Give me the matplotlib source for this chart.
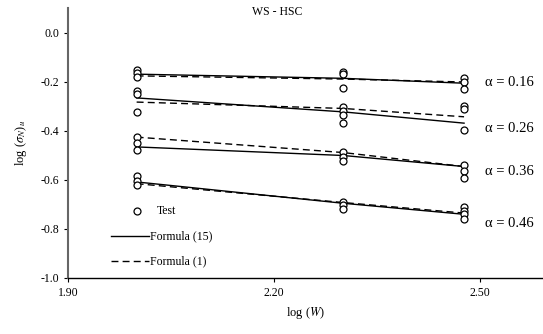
import numpy as np
import matplotlib
matplotlib.use("Agg")
import matplotlib.pyplot as plt

plt.rcParams['font.family'] = ['Liberation Serif', 'DejaVu Serif']
plt.rcParams['mathtext.fontset'] = 'stix'

# log(W) for W = 100, 200, 300
logW = [2.0, 2.301, 2.477]
alphas = ['0.16', '0.26', '0.36', '0.46']

# test points, per alpha, per W
test_pts = {
    '0.16': [[-0.151, -0.165, -0.178], [-0.158, -0.167, -0.226], [-0.182, -0.199, -0.230]],
    '0.26': [[-0.237, -0.250, -0.321], [-0.301, -0.318, -0.335, -0.369], [-0.300, -0.310, -0.395]],
    '0.36': [[-0.423, -0.450, -0.478], [-0.484, -0.505, -0.522], [-0.540, -0.565, -0.590]],
    '0.46': [[-0.585, -0.605, -0.620], [-0.688, -0.702, -0.718], [-0.710, -0.725, -0.740, -0.760]],
}
# formula (15), solid
f15 = {
    '0.16': [-0.168, -0.185, -0.205],
    '0.26': [-0.265, -0.322, -0.368],
    '0.36': [-0.465, -0.500, -0.545],
    '0.46': [-0.608, -0.695, -0.740],
}
# formula (1), dashed
f1 = {
    '0.16': [-0.175, -0.188, -0.200],
    '0.26': [-0.282, -0.308, -0.342],
    '0.36': [-0.425, -0.488, -0.545],
    '0.46': [-0.615, -0.692, -0.735],
}
label_y = [-0.204, -0.388, -0.567, -0.776]

fig = plt.figure(figsize=(5.43, 3.34), dpi=100)
ax = fig.add_axes([68/543, 56/334, 475/543, 270/334])

for a in alphas:
    for x, ys in zip(logW, test_pts[a]):
        ax.plot([x]*len(ys), ys, 'o', mfc='white', mec='black', ms=5, mew=0.9, zorder=3)
    ax.plot(logW, f15[a], '-', color='black', lw=1.0)
    ax.plot(logW, f1[a], '--', color='black', lw=1.0, dashes=(5, 3))

for a, yl in zip(alphas, label_y):
    ax.text(2.507, yl, 'α = ' + a, fontsize=10.5, va='center', ha='left')

# legend drawn by hand
ax.plot([2.0], [-0.725], 'o', mfc='white', mec='black', ms=5, mew=0.9)
ax.text(2.03, -0.725, 'Test', fontsize=8.5, va='center')
ax.plot([1.962, 2.018], [-0.83, -0.83], '-', color='black', lw=1.0)
ax.text(2.02, -0.83, 'Formula (15)', fontsize=8.5, va='center')
ax.plot([1.962, 2.018], [-0.93, -0.93], '--', color='black', lw=1.0, dashes=(5, 3))
ax.text(2.02, -0.93, 'Formula (1)', fontsize=8.5, va='center')

ax.set_xlim(1.9, 2.592)
ax.set_ylim(-1.0, 0.102)
ax.set_xticks([1.9, 2.2, 2.5])
ax.set_xticklabels(['1.90', '2.20', '2.50'])
ax.set_yticks(np.arange(-1.0, 0.01, 0.2))
ax.set_yticklabels(['-1.0', '-0.8', '-0.6', '-0.4', '-0.2', '0.0'])
ax.tick_params(labelsize=8.5, length=3, width=0.8, direction='out')

for s in ['top', 'right']:
    ax.spines[s].set_visible(False)
ax.spines['left'].set_color('#666666')
ax.spines['left'].set_linewidth(1.5)
ax.spines['bottom'].set_linewidth(1.0)

ax.set_xlabel(r'log ($\mathit{W}$)', fontsize=9, labelpad=4)
ax.set_ylabel(r'log ($\sigma_N$)$_u$', fontsize=9, labelpad=8)
fig.text(277/543, 1 - 12/334, 'WS - HSC', fontsize=8.5, ha='center', va='center')

fig.savefig('out.png', dpi=100)
